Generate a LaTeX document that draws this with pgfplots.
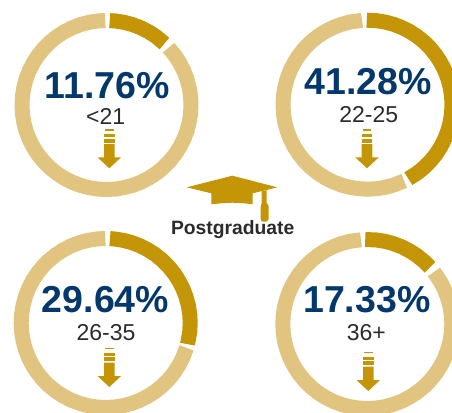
\documentclass[border=0pt]{standalone}
\usepackage{fontspec}
\setmainfont{Liberation Sans}
\newfontfamily\lightfont[FakeBold=-0.25]{Liberation Sans}
\usepackage{pgfplots}
\usepackage{pgfplotstable}
\usepgfplotslibrary{polar}
\pgfplotsset{compat=1.18}
\definecolor{gold}{HTML}{C49506}
\definecolor{lgold}{HTML}{E2C481}
\definecolor{navy}{HTML}{03386C}
\definecolor{lab}{HTML}{2B2B2B}
\pgfplotstableread{
x y
-4.2 129.3
4.2 129.3
4.2 130.6
-4.2 130.6
}\stripeA
\pgfplotstableread{
x y
-5.3 134
5.3 134
5.3 137
-5.3 137
}\stripeB
\pgfplotstableread{
x y
-5.3 138.5
5.3 138.5
5.3 142.7
-5.3 142.7
}\stripeC
\pgfplotstableread{
x y
-5.3 144
5.3 144
5.3 157.3
11.8 157.3
0 168.3
-11.8 157.3
-5.3 157.3
}\arrowbody
\newcommand\arrowat[2]{%
  \addplot[fill=gold,draw=none] table[x expr=\thisrow{x}+#1,y expr=\thisrow{y}+#2] {\stripeA} -- cycle;
  \addplot[fill=gold,draw=none] table[x expr=\thisrow{x}+#1,y expr=\thisrow{y}+#2] {\stripeB} -- cycle;
  \addplot[fill=gold,draw=none] table[x expr=\thisrow{x}+#1,y expr=\thisrow{y}+#2] {\stripeC} -- cycle;
  \addplot[fill=gold,draw=none] table[x expr=\thisrow{x}+#1,y expr=\thisrow{y}+#2] {\arrowbody} -- cycle;
}
\pgfplotsset{ring/.style={scale only axis,width=184pt,height=184pt,xmin=0,xmax=360,ymin=0,ymax=92,
  hide axis,clip=false,anchor=center},
  g/.style={gold,line width=15pt,no markers,line join=round},
  l/.style={lgold,line width=15pt,no markers,line join=round}}
\newcommand\pct[3]{\node[anchor=base,text=navy,inner sep=0pt,font=\fontsize{37.5}{40}\selectfont\bfseries] at (axis cs:#1,#2) {#3};}
\newcommand\lbl[3]{\node[anchor=base,text=lab,inner sep=0pt,font=\fontsize{23}{26}\selectfont\lightfont] at (axis cs:#1,#2) {#3};}
\begin{document}
\begin{tikzpicture}[x=1pt,y=1pt]
\useasboundingbox (0,0) rectangle (452,412);
\clip (0,0) rectangle (452,412);
% ring 1: 11.76
\begin{polaraxis}[ring,at={(106.5pt,307pt)}]
\addplot[g] table[row sep=\\,x=a,y expr=84.5] {a\\87.8\\84\\78\\72\\66\\60\\54\\46.7\\};
\addplot[l] table[row sep=\\,x=a,y expr=84.5] {a\\42.7\\36\\30\\24\\18\\12\\6\\0\\-6\\-12\\-18\\-24\\-30\\-36\\-42\\-48\\-54\\-60\\-66\\-72\\-78\\-84\\-90\\-96\\-102\\-108\\-114\\-120\\-126\\-132\\-138\\-144\\-150\\-156\\-162\\-168\\-174\\-180\\-186\\-192\\-198\\-204\\-210\\-216\\-222\\-228\\-234\\-240\\-246\\-252\\-258\\-264\\-269.1\\};
\end{polaraxis}
% ring 2: 41.28
\begin{polaraxis}[ring,at={(367.5pt,307.3pt)}]
\addplot[g] table[row sep=\\,x=a,y expr=84.5] {a\\90.5\\84\\78\\72\\66\\60\\54\\48\\42\\36\\30\\24\\18\\12\\6\\0\\-6\\-12\\-18\\-24\\-30\\-36\\-42\\-48\\-54\\-61.1\\};
\addplot[l] table[row sep=\\,x=a,y expr=84.5] {a\\-64.3\\-72\\-78\\-84\\-90\\-96\\-102\\-108\\-114\\-120\\-126\\-132\\-138\\-144\\-150\\-156\\-162\\-168\\-174\\-180\\-186\\-192\\-198\\-204\\-210\\-216\\-222\\-228\\-234\\-240\\-246\\-252\\-258\\-266.3\\};
\end{polaraxis}
% ring 3: 29.64
\begin{polaraxis}[ring,at={(105.7pt,89pt)}]
\addplot[g] table[row sep=\\,x=a,y expr=84.5] {a\\87.1\\84\\78\\72\\66\\60\\54\\48\\42\\36\\30\\24\\18\\12\\6\\0\\-6\\-14.5\\};
\addplot[l] table[row sep=\\,x=a,y expr=84.5] {a\\-17.1\\-24\\-30\\-36\\-42\\-48\\-54\\-60\\-66\\-72\\-78\\-84\\-90\\-96\\-102\\-108\\-114\\-120\\-126\\-132\\-138\\-144\\-150\\-156\\-162\\-168\\-174\\-180\\-186\\-192\\-198\\-204\\-210\\-216\\-222\\-228\\-234\\-240\\-246\\-252\\-258\\-264\\-269.7\\};
\end{polaraxis}
% ring 4: 17.33
\begin{polaraxis}[ring,at={(367.3pt,88pt)}]
\addplot[g] table[row sep=\\,x=a,y expr=84.5] {a\\91.4\\84\\78\\72\\66\\60\\54\\48\\42.1\\};
\addplot[l] table[row sep=\\,x=a,y expr=84.5] {a\\38\\30\\24\\18\\12\\6\\0\\-6\\-12\\-18\\-24\\-30\\-36\\-42\\-48\\-54\\-60\\-66\\-72\\-78\\-84\\-90\\-96\\-102\\-108\\-114\\-120\\-126\\-132\\-138\\-144\\-150\\-156\\-162\\-168\\-174\\-180\\-186\\-192\\-198\\-204\\-210\\-216\\-222\\-228\\-234\\-240\\-246\\-252\\-258\\-265.7\\};
\end{polaraxis}
% overlay in pixel coordinates
\begin{axis}[at={(0pt,0pt)},anchor=south west,scale only axis,width=452pt,height=412pt,
  xmin=0,xmax=452,ymin=0,ymax=412,y dir=reverse,hide axis,clip=false]
\arrowat{109.3}{0}
\arrowat{367}{0}
\arrowat{109.3}{218.7}
\arrowat{368.3}{222.7}
% cap
\addplot[fill=gold,draw=none] coordinates {(186.7,187.3)(232.3,175.7)(277.3,187.3)(252.7,193.3)(252.7,204.3)(243,203.2)(232.5,202.7)(222,203.2)(211.3,204.3)(211.3,193.3)} -- cycle;
\addplot[fill=gold,draw=none] coordinates {(261.7,191.3)(266.7,190)(266.7,203)(268.2,205)(268.7,207)(268.7,219)(267.5,221)(265,221.7)(263.5,221.7)(261.5,221)(260.7,219)(260.7,207)(260.9,205)(261.7,203)} -- cycle;
\pct{107}{98.3}{11.76\%}
\pct{368.2}{94.3}{41.28\%}
\pct{105.5}{312}{29.64\%}
\pct{366.8}{312}{17.33\%}
\lbl{105.7}{124}{<21}
\lbl{368.7}{122.3}{22-25}
\lbl{106}{340.3}{26-35}
\lbl{366.3}{340}{36+}
\node[anchor=base,text=lab,inner sep=0pt,font=\fontsize{19.3}{22}\selectfont\bfseries] at (axis cs:232.7,234) {Postgraduate};
\end{axis}
\end{tikzpicture}
\end{document}
